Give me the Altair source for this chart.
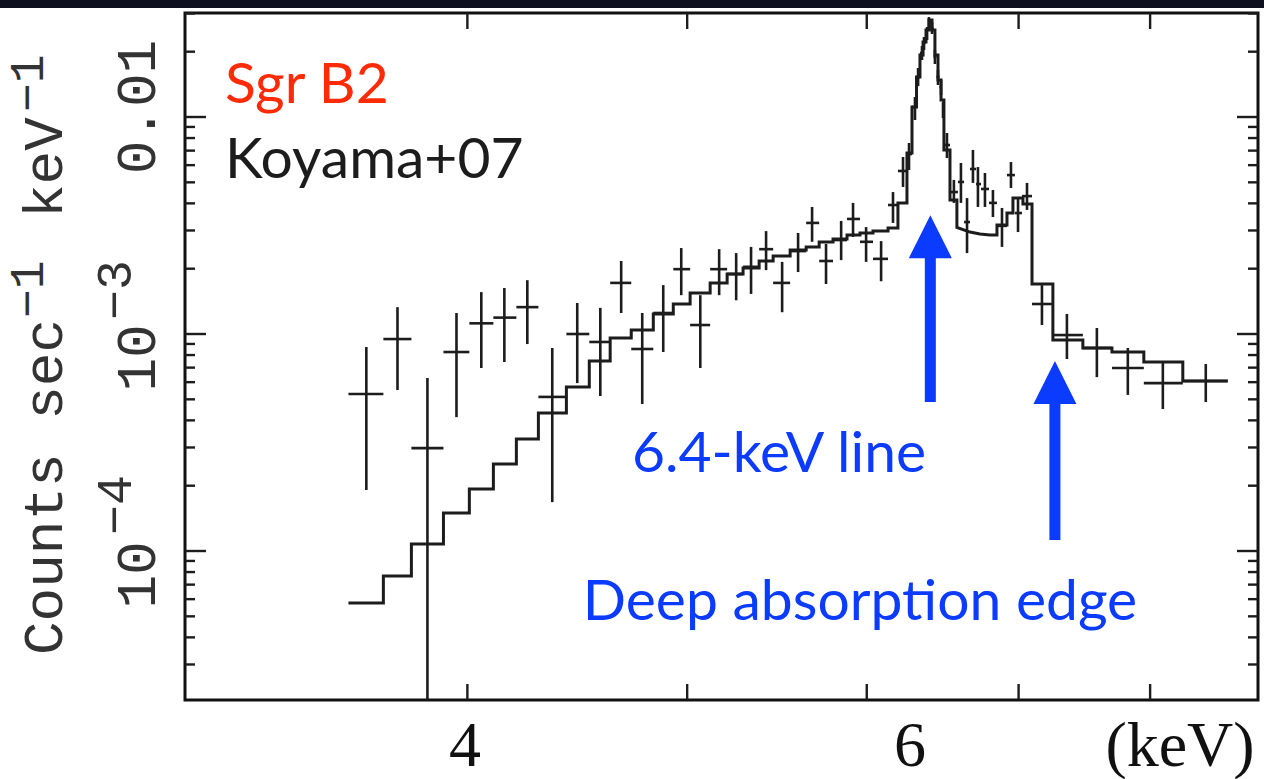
import altair as alt
import pandas as pd

# ---------------- observed spectrum (keV, counts s^-1 keV^-1) ----------------
energy = [3.610, 3.726, 3.841, 3.956, 4.057, 4.153, 4.251, 4.360, 4.472, 4.578,
          4.676, 4.777, 4.880, 4.970, 5.067, 5.165, 5.255, 5.335, 5.417, 5.506,
          5.596, 5.676, 5.757, 5.846, 5.917, 5.996, 6.088, 6.162,
          6.225, 6.263, 6.301, 6.321, 6.346, 6.359, 6.379, 6.391, 6.411, 6.430,
          6.450, 6.470, 6.483, 6.509, 6.555, 6.602, 6.643, 6.683, 6.717, 6.765,
          6.820, 6.883, 6.946, 6.996, 7.060,
          7.168, 7.352, 7.579, 7.821, 8.104, 8.465]
e_lo = [3.545, 3.673, 3.779, 3.904, 4.008, 4.107, 4.204, 4.299, 4.423, 4.527,
        4.624, 4.724, 4.831, 4.930, 5.015, 5.118, 5.207, 5.292, 5.379, 5.456,
        5.551, 5.642, 5.717, 5.798, 5.881, 5.959, 6.038, 6.131,
        6.193, 6.250, 6.282, 6.311, 6.333, 6.353, 6.369, 6.385, 6.401, 6.421,
        6.440, 6.460, 6.476, 6.496, 6.529, 6.582, 6.623, 6.663, 6.704, 6.738,
        6.793, 6.848, 6.918, 6.974, 7.024,
        7.096, 7.248, 7.472, 7.696, 7.949, 8.270]
e_hi = [3.673, 3.779, 3.904, 4.008, 4.107, 4.204, 4.299, 4.423, 4.527, 4.624,
        4.724, 4.831, 4.930, 5.015, 5.118, 5.207, 5.292, 5.379, 5.456, 5.551,
        5.642, 5.717, 5.798, 5.881, 5.959, 6.038, 6.131, 6.193,
        6.250, 6.282, 6.311, 6.333, 6.353, 6.369, 6.385, 6.401, 6.421, 6.440,
        6.460, 6.476, 6.496, 6.529, 6.582, 6.623, 6.663, 6.704, 6.738, 6.793,
        6.848, 6.918, 6.974, 7.024, 7.096,
        7.248, 7.472, 7.696, 7.949, 8.270, 8.656]
rate = [5.29e-4, 9.48e-4, 2.98e-4, 8.26e-4, 1.12e-3, 1.19e-3, 1.33e-3, 5.13e-4, 1.00e-3, 9.19e-4,
        1.72e-3, 8.53e-4, 1.25e-3, 1.99e-3, 1.10e-3, 1.99e-3, 1.89e-3, 2.04e-3, 2.46e-3, 1.72e-3,
        2.41e-3, 3.25e-3, 2.17e-3, 2.71e-3, 3.39e-3, 2.66e-3, 2.22e-3, 3.93e-3,
        5.64e-3, 6.75e-3, 1.112e-2, 1.529e-2, 1.972e-2, 2.193e-2, 2.439e-2, 2.712e-2, 2.571e-2, 1.890e-2,
        1.529e-2, 1.375e-2, 1.077e-2, 7.43e-3, 4.51e-3, 5.02e-3, 3.28e-3, 5.76e-3, 4.91e-3, 4.66e-3,
        4.02e-3, 3.15e-3, 5.40e-3, 3.61e-3, 4.32e-3,
        1.375e-3, 9.89e-4, 8.62e-4, 6.97e-4, 5.94e-4, 6.07e-4]
rate_lo = [1.91e-4, 5.52e-4, 1.0e-5, 4.14e-4, 6.97e-4, 7.43e-4, 8.99e-4, 1.68e-4, 5.94e-4, 5.18e-4,
           1.25e-3, 4.76e-4, 8.26e-4, 1.51e-3, 6.97e-4, 1.51e-3, 1.43e-3, 1.53e-3, 1.97e-3, 1.26e-3,
           1.93e-3, 2.66e-3, 1.70e-3, 2.19e-3, 2.80e-3, 2.15e-3, 1.75e-3, 3.25e-3,
           4.76e-3, 5.70e-3, 9.69e-3, 1.390e-2, 1.831e-2, 2.036e-2, 2.264e-2, 2.544e-2, 2.412e-2, 1.755e-2,
           1.404e-2, 1.263e-2, 9.89e-3, 6.47e-3, 4.02e-3, 4.02e-3, 2.36e-3, 4.97e-3, 3.85e-3, 3.85e-3,
           3.46e-3, 2.52e-3, 4.71e-3, 2.95e-3, 3.73e-3,
           1.10e-3, 7.67e-4, 6.33e-4, 5.24e-4, 4.51e-4, 4.86e-4]
rate_hi = [8.71e-4, 1.33e-3, 6.27e-4, 1.25e-3, 1.56e-3, 1.63e-3, 1.77e-3, 8.62e-4, 1.39e-3, 1.32e-3,
           2.17e-3, 1.25e-3, 1.68e-3, 2.49e-3, 1.51e-3, 2.46e-3, 2.36e-3, 2.52e-3, 2.98e-3, 2.15e-3,
           2.92e-3, 3.85e-3, 2.60e-3, 3.32e-3, 4.02e-3, 3.11e-3, 2.68e-3, 4.51e-3,
           6.54e-3, 7.59e-3, 1.236e-2, 1.682e-2, 2.124e-2, 2.337e-2, 2.598e-2, 2.889e-2, 2.741e-2, 2.036e-2,
           1.647e-2, 1.481e-2, 1.172e-2, 8.44e-3, 5.13e-3, 6.14e-3, 4.23e-3, 7.05e-3, 5.88e-3, 5.52e-3,
           4.61e-3, 3.81e-3, 6.20e-3, 4.23e-3, 4.97e-3,
           1.68e-3, 1.237e-3, 1.066e-3, 8.62e-4, 7.35e-4, 7.27e-4]

# ---------------- model (step histogram + smooth part) ----------------
model_edges_1 = [3.545, 3.673, 3.779, 3.904, 4.008, 4.107, 4.204, 4.299, 4.423, 4.527,
                 4.624, 4.724, 4.831, 4.930, 5.015, 5.118, 5.207, 5.292, 5.379, 5.456,
                 5.551, 5.642, 5.717, 5.798, 5.881, 5.959, 6.038, 6.131, 6.193, 6.250,
                 6.282, 6.311, 6.333, 6.353, 6.372, 6.391, 6.411, 6.430, 6.450, 6.470,
                 6.489, 6.529, 6.575]
model_vals_1 = [5.76e-5, 7.67e-5, 1.077e-4, 1.496e-4, 1.93e-4, 2.52e-4, 3.28e-4, 4.32e-4, 5.70e-4, 7.51e-4,
                9.58e-4, 1.043e-3, 1.237e-3, 1.375e-3, 1.545e-3, 1.718e-3, 1.89e-3, 2.014e-3, 2.17e-3, 2.29e-3,
                2.44e-3, 2.52e-3, 2.655e-3, 2.74e-3, 2.86e-3, 2.92e-3, 2.98e-3, 3.08e-3, 4.02e-3, 6.82e-3,
                1.112e-2, 1.529e-2, 1.931e-2, 2.216e-2, 2.518e-2, 2.799e-2, 2.518e-2, 1.931e-2, 1.481e-2, 1.198e-2,
                7.05e-3, 4.15e-3]
model_curve_e = [6.575, 6.663, 6.731, 6.799, 6.848]
model_curve_v = [3.10e-3, 2.95e-3, 2.89e-3, 2.86e-3, 2.86e-3]
model_edges_2 = [6.848, 6.918, 6.960, 7.031, 7.096, 7.248, 7.472, 7.696, 7.949, 8.270, 8.656]
model_vals_2 = [3.18e-3, 3.61e-3, 4.23e-3, 3.97e-3, 1.70e-3, 9.39e-4, 8.62e-4, 8.26e-4, 7.43e-4, 6.07e-4]

# ---------------- annotations ----------------
arrow_e = [6.40, 7.263]
arrow_bottom = [4.86e-4, 1.124e-4]
arrow_top = [2.44e-3, 5.24e-4]
arrow_head = [2.81e-3, 5.98e-4]

x_ticks = [4, 5, 6, 7, 8]
y_major = [1e-4, 1e-3, 1e-2]
y_minor = [m * 10.0 ** k for k in (-5, -4, -3, -2) for m in range(2, 10)
           if 2.06e-5 < m * 10.0 ** k < 3.01e-2]

W, H = 1073, 687
INK = "#1c1c1c"
BLUE = "#0b3bff"
RED = "#ff2b06"

xs = alt.Scale(type="log", domain=[3.003, 8.926], nice=False)
ys = alt.Scale(type="log", domain=[2.058e-5, 3.015e-2], nice=False)

pts = pd.DataFrame(dict(e=energy, elo=e_lo, ehi=e_hi, r=rate, rlo=rate_lo, rhi=rate_hi))

verts = []
for i, v in enumerate(model_vals_1):
    verts += [(model_edges_1[i], v), (model_edges_1[i + 1], v)]
verts += list(zip(model_curve_e, model_curve_v))
for i, v in enumerate(model_vals_2):
    verts += [(model_edges_2[i], v), (model_edges_2[i + 1], v)]
model = pd.DataFrame(verts, columns=["e", "r"])
model["i"] = range(len(model))

vbars = alt.Chart(pts).mark_rule(color=INK, strokeWidth=2.6, clip=True).encode(
    x=alt.X("e:Q", scale=xs, axis=None),
    y=alt.Y("rlo:Q", scale=ys, axis=None), y2="rhi:Q")
hbars = alt.Chart(pts).mark_rule(color=INK, strokeWidth=2.6, clip=True).encode(
    x=alt.X("elo:Q", scale=xs, axis=None), x2="ehi:Q",
    y=alt.Y("r:Q", scale=ys, axis=None))
model_line = alt.Chart(model).mark_line(color=INK, strokeWidth=3, clip=True,
                                        strokeJoin="miter").encode(
    x=alt.X("e:Q", scale=xs, axis=None),
    y=alt.Y("r:Q", scale=ys, axis=None),
    order="i:Q")

arrows = pd.DataFrame(dict(e=arrow_e, b=arrow_bottom, t=arrow_top, h=arrow_head))
shafts = alt.Chart(arrows).mark_rule(color=BLUE, strokeWidth=11, strokeCap="butt").encode(
    x=alt.X("e:Q", scale=xs, axis=None),
    y=alt.Y("b:Q", scale=ys, axis=None), y2="t:Q")
heads = alt.Chart(arrows).mark_point(shape="M0,-1L-1,1L1,1Z", filled=True, opacity=1,
                                     color=BLUE, size=1849, strokeWidth=0).encode(
    x=alt.X("e:Q", scale=xs, axis=None),
    y=alt.Y("h:Q", scale=ys, axis=None))

# ticks (drawn inward on all four sides)
xt = pd.DataFrame({"v": x_ticks})
ymaj = pd.DataFrame({"v": y_major})
ymin = pd.DataFrame({"v": y_minor})
TW = 2.4
tick_layers = [
    alt.Chart(xt).mark_rule(color=INK, strokeWidth=TW).encode(
        x=alt.X("v:Q", scale=xs, axis=None), y=alt.value(H), y2=alt.value(H - 16)),
    alt.Chart(xt).mark_rule(color=INK, strokeWidth=TW).encode(
        x=alt.X("v:Q", scale=xs, axis=None), y=alt.value(0), y2=alt.value(16)),
    alt.Chart(ymaj).mark_rule(color=INK, strokeWidth=TW).encode(
        y=alt.Y("v:Q", scale=ys, axis=None), x=alt.value(0), x2=alt.value(21)),
    alt.Chart(ymaj).mark_rule(color=INK, strokeWidth=TW).encode(
        y=alt.Y("v:Q", scale=ys, axis=None), x=alt.value(W - 21), x2=alt.value(W)),
    alt.Chart(ymin).mark_rule(color=INK, strokeWidth=TW).encode(
        y=alt.Y("v:Q", scale=ys, axis=None), x=alt.value(0), x2=alt.value(10)),
    alt.Chart(ymin).mark_rule(color=INK, strokeWidth=TW).encode(
        y=alt.Y("v:Q", scale=ys, axis=None), x=alt.value(W - 10), x2=alt.value(W)),
]


def label(s, x, y, size, color=INK, font="Lato", align="left", angle=0, weight="normal"):
    return alt.Chart(pd.DataFrame({"t": [s]})).mark_text(
        font=font, fontSize=size, color=color, align=align, baseline="alphabetic",
        angle=angle, fontWeight=weight).encode(
        text="t:N", x=alt.value(x), y=alt.value(y))


OX, OY = 185, 13  # plot origin on the page
texts = [
    label("Sgr B2", 225 - OX, 103 - OY, 57, RED),
    label("Koyama+07", 225 - OX, 178 - OY, 57, INK),
    label("6.4-keV line", 779 - OX, 472 - OY, 57, BLUE, align="center"),
    label("Deep absorption edge", 860 - OX, 620 - OY, 57, BLUE, align="center"),
    # x tick labels
    label("4", 465 - OX, 766 - OY, 64, "#111111", "Liberation Serif", "center"),
    label("6", 910 - OX, 766 - OY, 64, "#111111", "Liberation Serif", "center"),
    label("(keV)", 1180 - OX, 766 - OY, 64, "#111111", "Liberation Serif", "center"),
    # y tick labels
    label("0.01", 155 - OX, 107 - OY, 56, "#333333", "Liberation Mono", "center", 270),
    label("10", 155 - OX, 358 - OY, 56, "#333333", "Liberation Mono", "center", 270),
    label("\u22123", 131 - OX, 290 - OY, 50, "#333333", "Liberation Mono", "center", 270),
    label("10", 155 - OX, 575 - OY, 56, "#333333", "Liberation Mono", "center", 270),
    label("\u22124", 131 - OX, 505 - OY, 50, "#333333", "Liberation Mono", "center", 270),
    # y title
    label("Counts sec", 62 - OX, 655 - OY, 56, "#333333", "Liberation Mono", "left", 270),
    label("\u22121", 43 - OX, 318 - OY, 48, "#333333", "Liberation Mono", "left", 270),
    label("keV", 62 - OX, 218 - OY, 56, "#333333", "Liberation Mono", "left", 270),
    label("\u22121", 43 - OX, 112 - OY, 48, "#333333", "Liberation Mono", "left", 270),
]

top_band = alt.Chart(pd.DataFrame({"a": [0]})).mark_rect(color="#0e1020").encode(
    x=alt.value(-OX), x2=alt.value(1264 - OX), y=alt.value(-OY), y2=alt.value(8 - OY))

chart = alt.layer(
    top_band, *tick_layers, model_line, vbars, hbars, shafts, heads, *texts
).properties(
    width=W, height=H,
    autosize=alt.AutoSizeParams(type="none"),
    padding={"left": OX, "top": OY, "right": 1264 - OX - W, "bottom": 779 - OY - H},
    background="white",
).configure_view(stroke="#111111", strokeWidth=3)

chart.save("out.html", embed_options={"renderer": "svg", "actions": False})
